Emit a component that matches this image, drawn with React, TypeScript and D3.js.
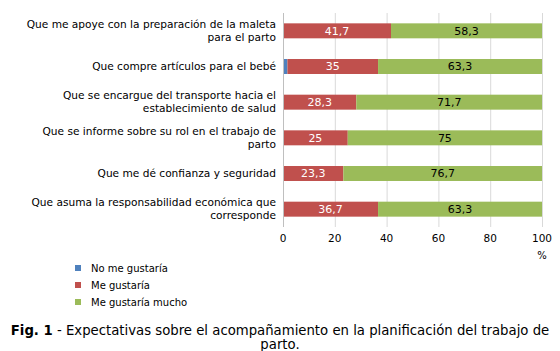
import { useEffect, useRef } from 'react';
import * as d3 from 'd3';

const categories = [
  ['Que me apoye con la preparación de la maleta', 'para el parto'],
  ['Que compre artículos para el bebé'],
  ['Que se encargue del transporte hacia el', 'establecimiento de salud'],
  ['Que se informe sobre su rol en el trabajo de', 'parto'],
  ['Que me dé confianza y seguridad'],
  ['Que asuma la responsabilidad económica que', 'corresponde'],
];
const seriesNames = ['No me gustaría', 'Me gustaría', 'Me gustaría mucho'];
const noMeGustaria = [0, 1.7, 0, 0, 0, 0];
const meGustaria = [41.7, 35, 28.3, 25, 23.3, 36.7];
const meGustariaMucho = [58.3, 63.3, 71.7, 75, 76.7, 63.3];
const xTicks = [0, 20, 40, 60, 80, 100];
const colors = ['#4f81bd', '#c0504d', '#9bbb59'];

const FONT = 'DejaVu Sans, Verdana, sans-serif';

export default function App() {
  const svgRef = useRef<SVGSVGElement | null>(null);

  useEffect(() => {
    if (!svgRef.current) return;
    const svg = d3.select(svgRef.current);
    svg.selectAll('*').remove();

    const width = 560;
    const margin = { top: 13, right: 18, left: 283, bottom: 124 };
    const plotBottom = 227;

    const x = d3.scaleLinear().domain([0, 100]).range([margin.left, width - margin.right]);
    const y = d3
      .scaleBand<number>()
      .domain(d3.range(categories.length))
      .range([margin.top, plotBottom])
      .paddingInner(0.58)
      .paddingOuter(0.29);

    // gridlines
    svg
      .append('g')
      .selectAll('line')
      .data(xTicks)
      .join('line')
      .attr('x1', d => x(d) + 0.5)
      .attr('x2', d => x(d) + 0.5)
      .attr('y1', margin.top)
      .attr('y2', plotBottom)
      .attr('stroke', '#d9d9d9')
      .attr('stroke-width', 1);

    const rows = categories.map((c, i) => ({
      i,
      vals: [noMeGustaria[i], meGustaria[i], meGustariaMucho[i]],
    }));

    const segs = rows.flatMap(r => {
      let acc = 0;
      return r.vals.map((v, s) => {
        const seg = { i: r.i, s, x0: acc, x1: acc + v, v };
        acc += v;
        return seg;
      });
    });

    svg
      .append('g')
      .selectAll('rect')
      .data(segs.filter(d => d.v > 0))
      .join('rect')
      .attr('x', d => x(d.x0))
      .attr('width', d => x(d.x1) - x(d.x0))
      .attr('y', d => y(d.i)!)
      .attr('height', y.bandwidth())
      .attr('fill', d => colors[d.s]);

    // value labels
    svg
      .append('g')
      .selectAll('text')
      .data(segs.filter(d => d.s > 0 && d.v > 0))
      .join('text')
      .attr('x', d => (x(d.x0) + x(d.x1)) / 2)
      .attr('y', d => y(d.i)! + y.bandwidth() / 2)
      .attr('dy', '0.36em')
      .attr('text-anchor', 'middle')
      .attr('font-family', FONT)
      .attr('font-size', 11)
      .attr('fill', d => (d.s === 1 ? '#ffffff' : '#000000'))
      .text(d => String(d.v).replace('.', ','));

    // y axis line
    svg
      .append('line')
      .attr('x1', x(0) + 0.5)
      .attr('x2', x(0) + 0.5)
      .attr('y1', margin.top)
      .attr('y2', plotBottom)
      .attr('stroke', '#bfbfbf');

    // category labels
    const catG = svg.append('g');
    categories.forEach((lines, i) => {
      const cy = y(i)! + y.bandwidth() / 2;
      const lh = 13;
      const start = cy - ((lines.length - 1) * lh) / 2;
      const t = catG
        .append('text')
        .attr('text-anchor', 'end')
        .attr('font-family', FONT)
        .attr('font-size', 10.6)
        .attr('fill', '#000');
      lines.forEach((ln, k) => {
        t.append('tspan')
          .attr('x', 276)
          .attr('y', start + k * lh)
          .attr('dy', '0.35em')
          .text(ln);
      });
    });

    // x tick labels
    svg
      .append('g')
      .selectAll('text')
      .data(xTicks)
      .join('text')
      .attr('x', d => x(d))
      .attr('y', 238)
      .attr('dy', '0.35em')
      .attr('text-anchor', 'middle')
      .attr('font-family', FONT)
      .attr('font-size', 10.5)
      .text(d => d);

    svg
      .append('text')
      .attr('x', x(100))
      .attr('y', 255)
      .attr('dy', '0.35em')
      .attr('text-anchor', 'middle')
      .attr('font-family', FONT)
      .attr('font-size', 10)
      .text('%');

    // legend
    const leg = svg
      .append('g')
      .selectAll('g')
      .data(seriesNames)
      .join('g')
      .attr('transform', (_, k) => `translate(78,${268 + k * 17})`);
    leg
      .append('rect')
      .attr('x', -3)
      .attr('y', -3)
      .attr('width', 6)
      .attr('height', 6)
      .attr('fill', (_, k) => colors[k]);
    leg
      .append('text')
      .attr('x', 13)
      .attr('dy', '0.35em')
      .attr('font-family', FONT)
      .attr('font-size', 10)
      .text(d => d);

    // caption
    const cap = svg
      .append('text')
      .attr('text-anchor', 'middle')
      .attr('font-family', FONT)
      .attr('font-size', 13.25)
      .attr('fill', '#000');
    const l1 = cap.append('tspan').attr('x', 280).attr('y', 330).attr('dy', '0.35em');
    l1.append('tspan').attr('font-weight', 'bold').text('Fig. 1');
    l1.append('tspan').text(' - Expectativas sobre el acompañamiento en la planificación del trabajo de');
    cap.append('tspan').attr('x', 280).attr('y', 344).attr('dy', '0.35em').text('parto.');
  }, []);

  return (
    <svg
      ref={svgRef}
      width={560}
      height={351}
      style={{ position: 'absolute', left: 0, top: 0, background: '#fff' }}
    />
  );
}
